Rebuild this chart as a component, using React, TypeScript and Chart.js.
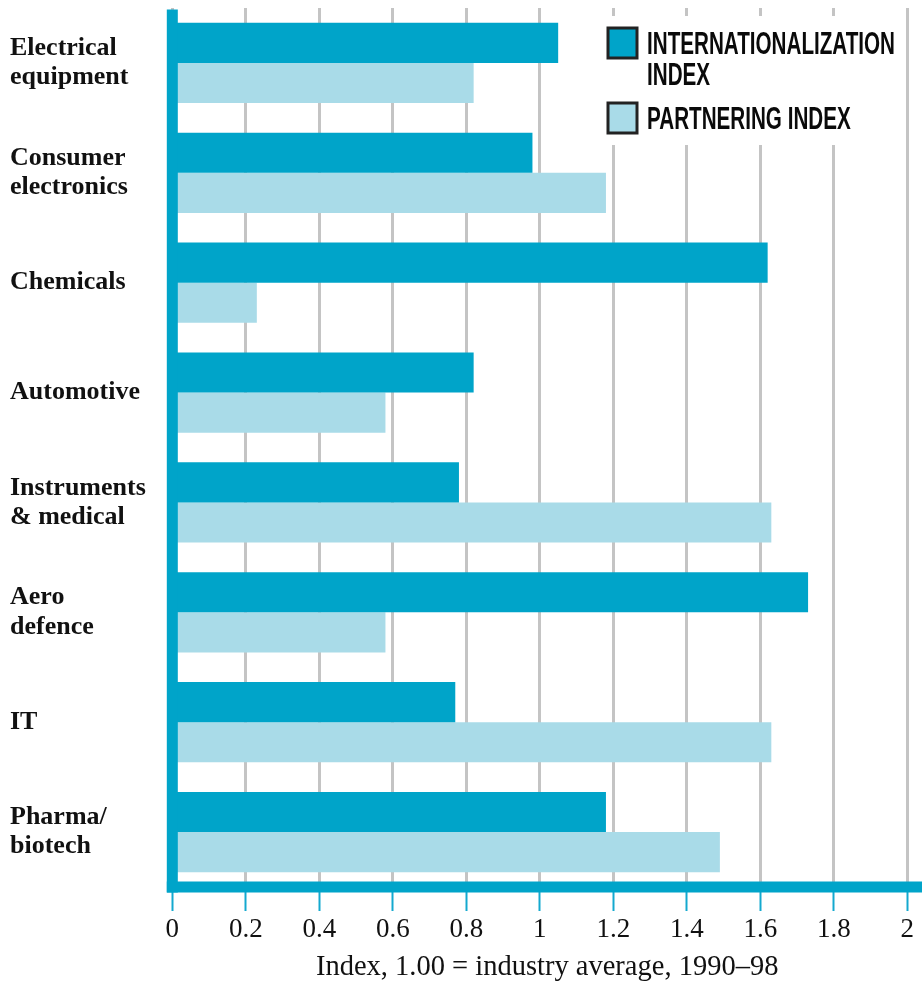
import { useEffect, useRef } from 'react';
import { Chart, registerables } from 'chart.js';

Chart.register(...registerables);

// Industry categories (multi-line labels)
const industries: (string | string[])[] = [
  ['Electrical', 'equipment'],
  ['Consumer', 'electronics'],
  'Chemicals',
  'Automotive',
  ['Instruments', '& medical'],
  ['Aero', 'defence'],
  'IT',
  ['Pharma/', 'biotech'],
];

// Index values, 1.00 = industry average
const internationalization = [1.05, 0.98, 1.62, 0.82, 0.78, 1.73, 0.77, 1.18];
const partnering = [0.82, 1.18, 0.23, 0.58, 1.63, 0.58, 1.63, 1.49];

const seriesNames: string[][] = [['INTERNATIONALIZATION', 'INDEX'], ['PARTNERING INDEX']];
const seriesColors = ['#00a4c9', '#a9dbe8'];

const xTicks = [0, 0.2, 0.4, 0.6, 0.8, 1, 1.2, 1.4, 1.6, 1.8, 2];
const xTitle = 'Index, 1.00 = industry average, 1990–98';

const AXIS_BLUE = '#00a4c9';
const SERIF = '"Liberation Serif", "Times New Roman", serif';

// Thick blue axis lines drawn over the bar bases
const axisLinesPlugin = {
  id: 'axisLines',
  afterDatasetsDraw(chart: any) {
    const { ctx, chartArea, scales } = chart;
    const x0 = scales.x.getPixelForValue(0);
    const w = 11;
    ctx.save();
    ctx.fillStyle = AXIS_BLUE;
    ctx.fillRect(x0 - w / 2, chartArea.top + 1.5, w, chartArea.bottom - chartArea.top + w / 2 - 1.5);
    ctx.fillRect(x0 - w / 2, chartArea.bottom - w / 2, chartArea.right - x0 + w / 2, w);
    ctx.restore();
  },
};

// Boxed legend in the upper right corner
const boxLegendPlugin = {
  id: 'boxLegend',
  afterDraw(chart: any) {
    const { ctx } = chart;
    ctx.save();
    ctx.fillStyle = '#ffffff';
    ctx.fillRect(598, 16, 305, 129);
    ctx.font = 'bold 31px "Liberation Sans Narrow", "Liberation Sans", Arial, sans-serif';
    const widest = ctx.measureText(seriesNames[0][0]).width;
    const sx = 248 / widest;
    let y = 28;
    chart.data.datasets.forEach((ds: any, i: number) => {
      const lines = seriesNames[i];
      ctx.fillStyle = ds.backgroundColor;
      ctx.fillRect(608, y, 29, 30);
      ctx.lineWidth = 3;
      ctx.strokeStyle = '#222222';
      ctx.strokeRect(608, y, 29, 30);
      ctx.fillStyle = '#0a0a0a';
      ctx.textBaseline = 'alphabetic';
      ctx.textAlign = 'left';
      lines.forEach((line, k) => {
        ctx.save();
        ctx.translate(647, y + 25.5 + k * 31.7);
        ctx.scale(sx, 1);
        ctx.fillText(line, 0, 0);
        ctx.restore();
      });
      y += lines.length * 31.7 + 11.6;
    });
    ctx.restore();
  },
};

export default function App() {
  const canvasRef = useRef<HTMLCanvasElement | null>(null);

  useEffect(() => {
    if (!canvasRef.current) return;
    const chart = new Chart(canvasRef.current, {
      type: 'bar',
      data: {
        labels: industries,
        datasets: [
          {
            label: seriesNames[0].join(' '),
            data: internationalization,
            backgroundColor: seriesColors[0],
            borderWidth: 0,
            categoryPercentage: 0.73,
            barPercentage: 1,
          },
          {
            label: seriesNames[1].join(' '),
            data: partnering,
            backgroundColor: seriesColors[1],
            borderWidth: 0,
            categoryPercentage: 0.73,
            barPercentage: 1,
          },
        ],
      },
      options: {
        indexAxis: 'y',
        responsive: false,
        animation: false,
        layout: { padding: { left: 10, top: 8, right: 0, bottom: 0 } },
        plugins: {
          legend: { display: false },
          tooltip: { enabled: false },
        },
        scales: {
          x: {
            type: 'linear',
            position: 'bottom',
            min: 0,
            max: 2.04,
            afterBuildTicks: (scale: any) => {
              scale.ticks = xTicks.map((v) => ({ value: v }));
            },
            afterFit: (scale: any) => {
              scale.height = 98;
              scale.paddingLeft = 0;
              scale.paddingRight = 0;
            },
            grid: {
              color: '#c4c4c4',
              lineWidth: 3,
              drawTicks: true,
              tickLength: 24,
              tickColor: '#14a9cf',
              tickWidth: 2,
            },
            border: { display: false },
            ticks: {
              padding: 3,
              color: '#111111',
              font: { family: SERIF, size: 27 },
              callback: (v: any) => String(v),
            },
            title: {
              display: true,
              text: xTitle,
              color: '#111111',
              font: { family: SERIF, size: 28.5 },
              padding: { top: 0, bottom: 0 },
            },
          },
          y: {
            type: 'category',
            position: 'left',
            afterFit: (scale: any) => {
              scale.width = 162.3;
              scale.paddingTop = 0;
              scale.paddingBottom = 0;
            },
            grid: { display: false },
            border: { display: false },
            ticks: {
              autoSkip: false,
              crossAlign: 'far',
              padding: 0,
              color: '#111111',
              font: { family: SERIF, size: 26, weight: 'bold', lineHeight: 1.12 },
            },
          },
        },
      },
      plugins: [axisLinesPlugin, boxLegendPlugin],
    });
    return () => chart.destroy();
  }, []);

  return (
    <div style={{ position: 'fixed', left: 0, top: 0, width: 922, height: 985, background: '#fff' }}>
      <canvas ref={canvasRef} width={922} height={985} style={{ display: 'block' }} />
    </div>
  );
}
